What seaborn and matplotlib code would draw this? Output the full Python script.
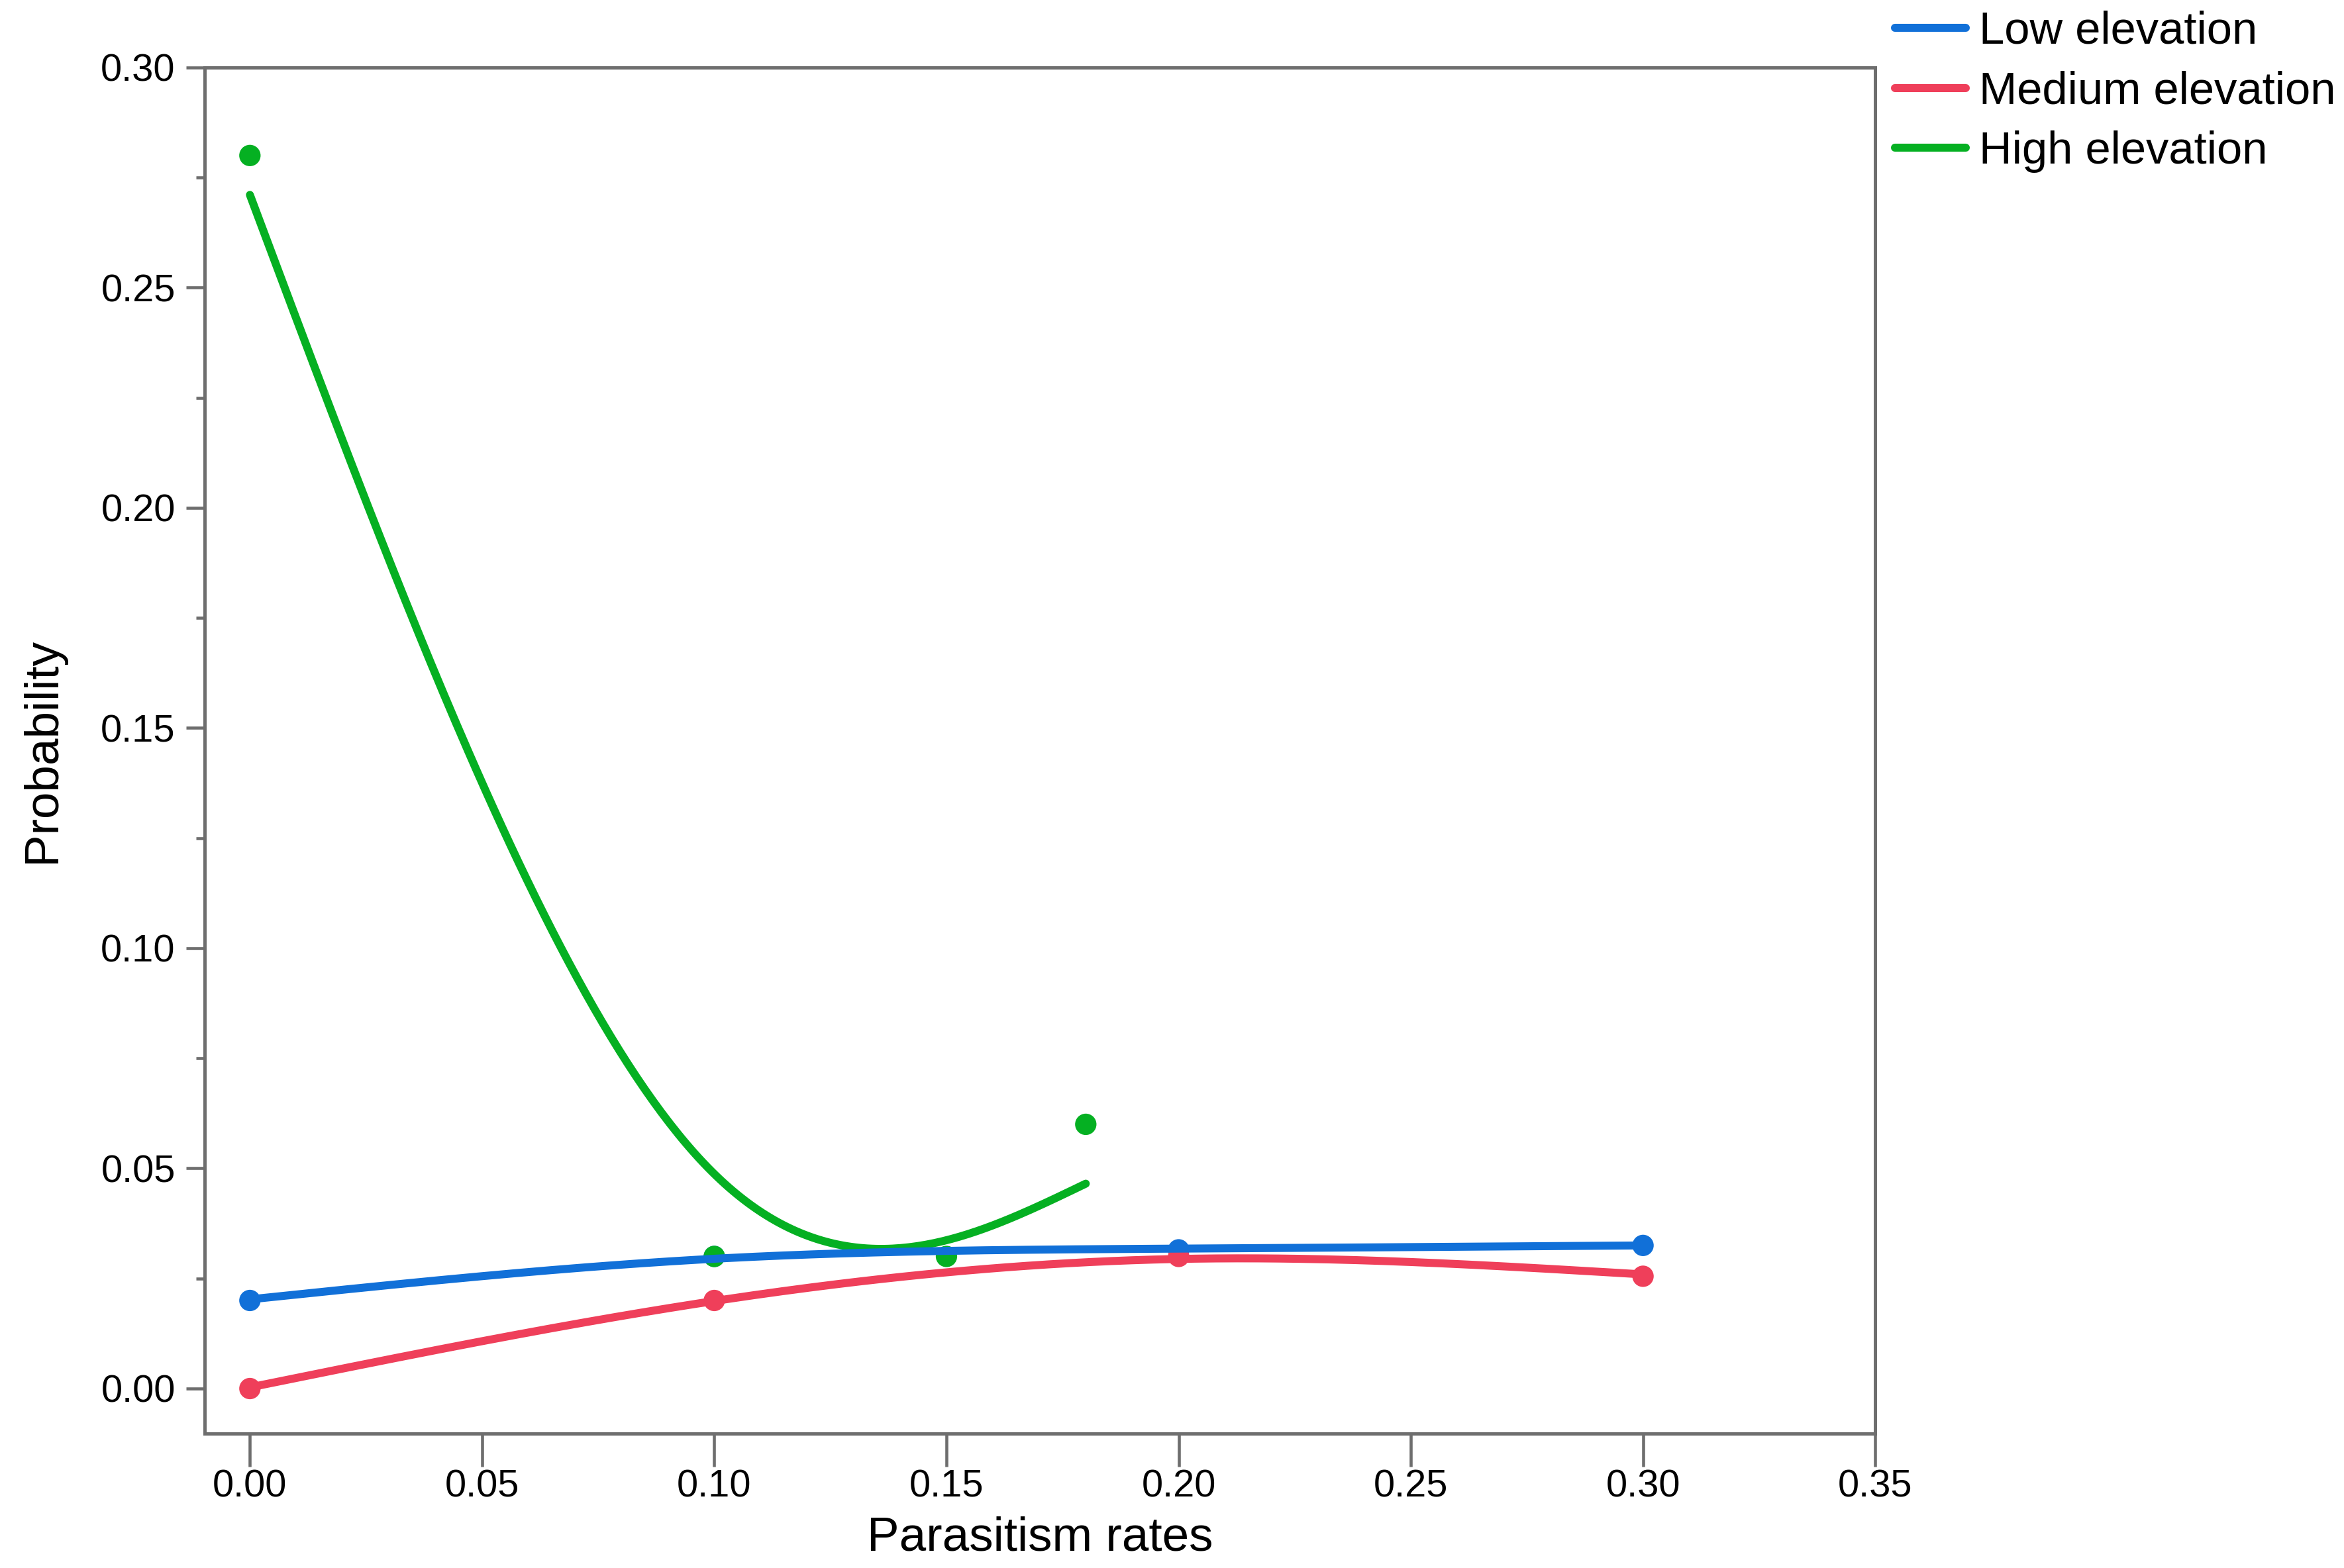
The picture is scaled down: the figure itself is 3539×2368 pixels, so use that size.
import matplotlib
matplotlib.use("Agg")
import matplotlib.pyplot as plt
import numpy as np
import pandas as pd
import seaborn as sns
from matplotlib.ticker import MultipleLocator

# data
low_x = [0.00, 0.10, 0.20, 0.30]
low_y = [0.020, 0.030, 0.0315, 0.0325]
med_x = [0.00, 0.10, 0.20, 0.30]
med_y = [0.000, 0.020, 0.030, 0.0255]
high_x = [0.00, 0.10, 0.15, 0.18]
high_y = [0.280, 0.030, 0.030, 0.060]

groups = ["Low elevation", "Medium elevation", "High elevation"]
colors = ["#1170D8", "#EF3F5A", "#05B022"]

x_ticks = [0.00, 0.05, 0.10, 0.15, 0.20, 0.25, 0.30, 0.35]
y_ticks = [0.00, 0.05, 0.10, 0.15, 0.20, 0.25, 0.30]

SMOOTH_LAMBDA = 2.5e-5


def smoothing_spline(x, y, lam, n_grid=200):
    """Cubic smoothing spline (Reinsch) evaluated on a grid over the data range."""
    x = np.asarray(x, float)
    y = np.asarray(y, float)
    n = len(x)
    h = np.diff(x)
    Q = np.zeros((n, n - 2))
    R = np.zeros((n - 2, n - 2))
    for j in range(1, n - 1):
        Q[j - 1, j - 1] = 1 / h[j - 1]
        Q[j, j - 1] = -1 / h[j - 1] - 1 / h[j]
        Q[j + 1, j - 1] = 1 / h[j]
        R[j - 1, j - 1] = (h[j - 1] + h[j]) / 3
        if j < n - 2:
            R[j - 1, j] = R[j, j - 1] = h[j] / 6
    gam = np.linalg.solve(R + lam * Q.T @ Q, Q.T @ y)
    g = y - lam * Q @ gam
    gam = np.concatenate([[0.0], gam, [0.0]])

    xs = np.linspace(x[0], x[-1], n_grid)
    idx = np.clip(np.searchsorted(x, xs, side="right") - 1, 0, n - 2)
    hh = x[idx + 1] - x[idx]
    a = xs - x[idx]
    b = x[idx + 1] - xs
    fs = (a * g[idx + 1] + b * g[idx]) / hh \
        - a * b / 6 * ((1 + a / hh) * gam[idx + 1] + (1 + b / hh) * gam[idx])
    return xs, fs


points = pd.concat([
    pd.DataFrame({"rate": low_x, "prob": low_y, "group": groups[0]}),
    pd.DataFrame({"rate": med_x, "prob": med_y, "group": groups[1]}),
    pd.DataFrame({"rate": high_x, "prob": high_y, "group": groups[2]}),
])

curves = []
for g in groups:
    sub = points[points["group"] == g]
    xs, fs = smoothing_spline(sub["rate"], sub["prob"], SMOOTH_LAMBDA)
    curves.append(pd.DataFrame({"rate": xs, "prob": fs, "group": g}))
curves = pd.concat(curves)

palette = dict(zip(groups, colors))

sns.set_style("white")
plt.rcParams["font.family"] = ["Liberation Sans", "DejaVu Sans"]
plt.rcParams["text.color"] = "black"
plt.rcParams["axes.labelcolor"] = "black"
plt.rcParams["xtick.labelcolor"] = "black"
plt.rcParams["ytick.labelcolor"] = "black"

fig, ax = plt.subplots(figsize=(3539 / 300, 2368 / 300), dpi=300)
fig.subplots_adjust(left=0.0874, right=0.800, top=0.957, bottom=0.0858)

# draw high first so the low line sits on top, like the reference
draw_order = groups[::-1]
sns.scatterplot(data=points, x="rate", y="prob", hue="group", hue_order=draw_order,
                palette=palette, s=60, linewidth=0, ax=ax, legend=False, zorder=2)
sns.lineplot(data=curves, x="rate", y="prob", hue="group", hue_order=draw_order,
             palette=palette, lw=2.9, ax=ax, sort=True, estimator=None, zorder=3)

ax.set_xlim(-0.0097, 0.35)
ax.set_ylim(-0.0102, 0.30)
ax.set_xticks(x_ticks)
ax.set_yticks(y_ticks)
ax.set_xticklabels(["%.2f" % t for t in x_ticks])
ax.set_yticklabels(["%.2f" % t for t in y_ticks])
ax.yaxis.set_minor_locator(MultipleLocator(0.025))
ax.tick_params(axis="x", which="major", length=12, width=1.1, color="#6E6E6E",
               labelcolor="black", labelsize=13.9, pad=1, bottom=True)
ax.tick_params(axis="y", which="major", length=6.7, width=1.1, color="#6E6E6E",
               labelcolor="black", labelsize=13.9, pad=4, left=True)
ax.tick_params(axis="y", which="minor", length=3.2, width=1.1, color="#6E6E6E", left=True)

for spine in ax.spines.values():
    spine.set_visible(True)
    spine.set_color("#6E6E6E")
    spine.set_linewidth(1.2)

ax.set_xlabel("Parasitism rates", fontsize=17.5, labelpad=4, color="black")
ax.set_ylabel("Probability", fontsize=17.5, labelpad=13, color="black")

handles, labels = ax.get_legend_handles_labels()
order = [labels.index(g) for g in groups]
leg = ax.legend([handles[i] for i in order], [labels[i] for i in order],
                loc="upper left", bbox_to_anchor=(1.001, 1.055), frameon=False,
                fontsize=16.5, handlelength=1.56, handletextpad=0.28, labelspacing=0.39,
                borderaxespad=0)
for t in leg.get_texts():
    t.set_color("black")

plt.savefig("out.png", dpi=300)
